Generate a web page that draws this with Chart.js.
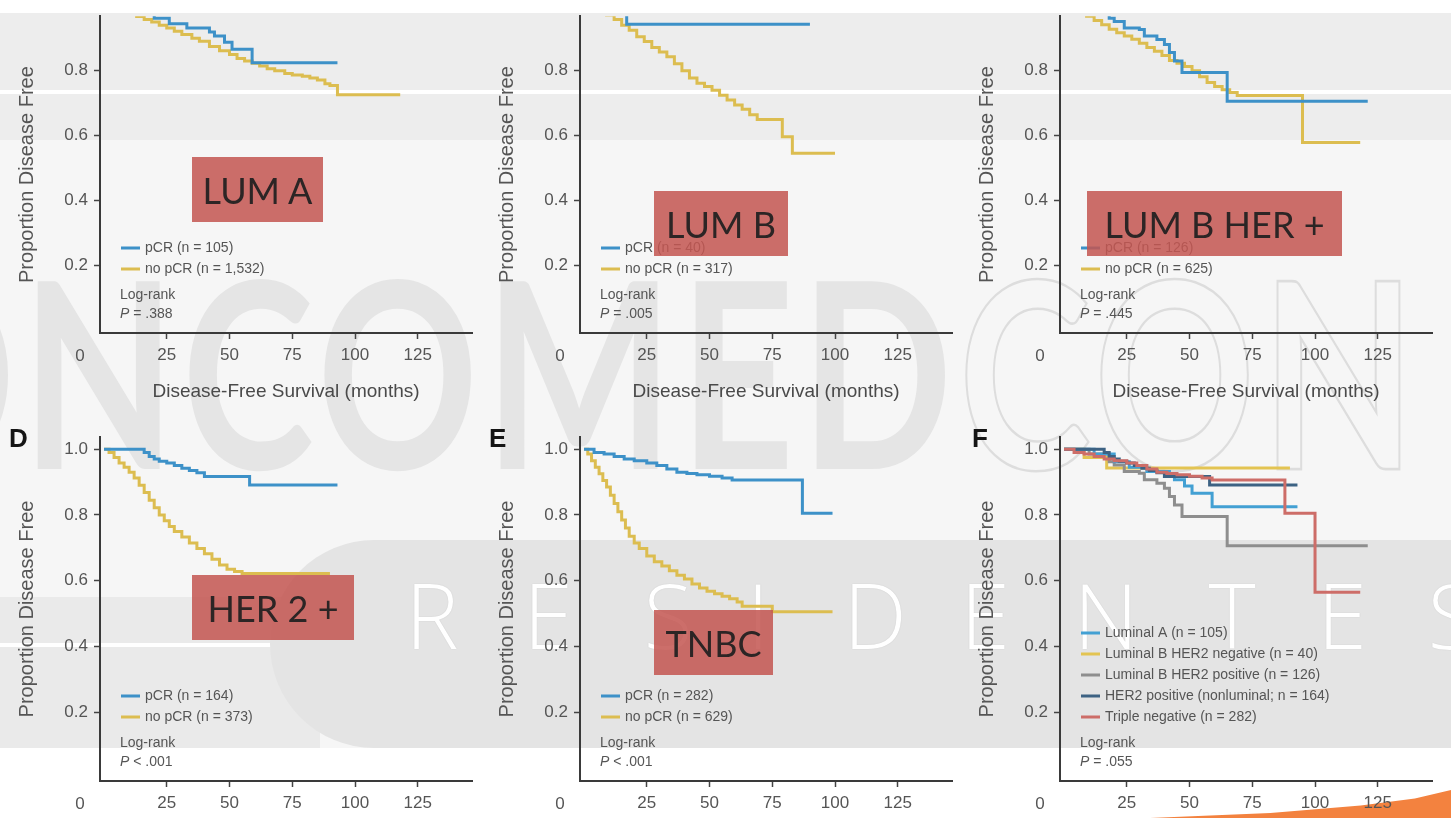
<!DOCTYPE html>
<html>
<head>
<meta charset="utf-8">
<script src="https://cdn.jsdelivr.net/npm/chart.js@4.4.1/dist/chart.umd.min.js"></script>
<style>
body { margin: 0; }
#page { position: relative; width: 1451px; height: 818px; overflow: hidden; background: #f6f6f6; }
.bg { position: absolute; }
canvas { position: absolute; z-index: 3; }
.tag { position: absolute; z-index: 5; background: rgba(196, 86, 82, 0.86); color: #2c2525;
       font-family: Lato, "Open Sans", sans-serif; font-size: 36px; display: flex;
       align-items: center; justify-content: center; white-space: nowrap; }
.plabel { position: absolute; z-index: 4; font: bold 26px/26px "Liberation Sans", Arial, sans-serif; color: #151515; }
#wm { position: absolute; left: -146px; top: 239px; font: bold 200px/200px Lato, sans-serif; letter-spacing: 6px;
      color: #e5e5e5; transform: scaleY(1.3); transform-origin: 0 0; white-space: nowrap; z-index: 1; }
#wm span { color: transparent; -webkit-text-stroke: 2px #dddddd; }
.res { position: absolute; top: 569px; font: 300 90px/90px "Open Sans", sans-serif; color: #ffffff;
       transform: translateX(-50%); z-index: 2; text-shadow: 0 0 1px #bbb; }
</style>
</head>
<body>
<div id="page">
  <div class="bg" style="left:0;top:0;width:1451px;height:13px;background:#ffffff"></div>
  <div class="bg" style="left:0;top:13px;width:1451px;height:127px;background:#ededed"></div>
  <div class="bg" style="left:0;top:90px;width:1451px;height:4px;background:#ffffff"></div>
  <div id="wm">ONCOMED<span>CON</span></div>
  <div class="bg" style="left:0;top:597px;width:320px;height:151px;background:#eaeaea;z-index:1"></div>
  <div class="bg" style="left:0;top:643px;width:320px;height:4px;background:#ffffff;z-index:1"></div>
  <div class="bg" style="left:270px;top:540px;width:1300px;height:208px;background:#e4e4e4;border-radius:104px 0 0 104px;z-index:1"></div>
  <div class="bg" style="left:0;top:748px;width:1451px;height:70px;background:#ffffff;z-index:1"></div>
  <div class="bg" style="left:1150px;top:790px;width:301px;height:28px;background:#f3823f;clip-path:polygon(0 100%,40% 82%,70% 55%,88% 30%,100% 0,100% 100%);z-index:2"></div>

  <div class="res" style="left:432px">R</div>
  <div class="res" style="left:548px">E</div>
  <div class="res" style="left:668px">S</div>
  <div class="res" style="left:758px">I</div>
  <div class="res" style="left:875px">D</div>
  <div class="res" style="left:985px">E</div>
  <div class="res" style="left:1106px">N</div>
  <div class="res" style="left:1232px">T</div>
  <div class="res" style="left:1342px">E</div>
  <div class="res" style="left:1452px">S</div>

  <canvas id="cA" width="480" height="410" style="left:0;top:0"></canvas>
  <canvas id="cB" width="480" height="410" style="left:480px;top:0"></canvas>
  <canvas id="cC" width="491" height="410" style="left:960px;top:0"></canvas>
  <canvas id="cD" width="480" height="408" style="left:0;top:410px"></canvas>
  <canvas id="cE" width="480" height="408" style="left:480px;top:410px"></canvas>
  <canvas id="cF" width="491" height="408" style="left:960px;top:410px"></canvas>

  <div class="plabel" style="left:9px;top:425px">D</div>
  <div class="plabel" style="left:489px;top:425px">E</div>
  <div class="plabel" style="left:972px;top:425px">F</div>

  <div class="tag" style="left:192px;top:157px;width:131px;height:65px">LUM A</div>
  <div class="tag" style="left:654px;top:191px;width:134px;height:65px">LUM B</div>
  <div class="tag" style="left:1087px;top:191px;width:255px;height:65px">LUM B HER +</div>
  <div class="tag" style="left:192px;top:575px;width:162px;height:65px">HER 2 +</div>
  <div class="tag" style="left:654px;top:610px;width:119px;height:65px">TNBC</div>
</div>

<script>
const family = '"Liberation Sans", Arial, sans-serif';
Chart.defaults.font.family = family;

const xTicks = [25, 50, 75, 100, 125];
const yTicks = [0.2, 0.4, 0.6, 0.8, 1.0];

// [months, proportion disease free]
const lumA_pCR = [[0,1],[12,0.985],[20,0.962],[26,0.945],[33,0.932],[42,0.919],[44,0.907],[48,0.888],[51,0.866],[59,0.825],[93,0.825]];
const lumA_noPCR = [[0,1],[3,0.995],[6,0.99],[9,0.98],[13,0.967],[16,0.958],[19,0.95],[22,0.94],[25,0.932],[28,0.922],[31,0.912],[35,0.9],[38,0.891],[42,0.875],[46,0.862],[50,0.85],[53,0.838],[56,0.83],[59,0.823],[62,0.815],[65,0.806],[68,0.8],[72,0.792],[75,0.787],[79,0.783],[82,0.778],[85,0.772],[88,0.76],[90,0.755],[93,0.726],[118,0.726]];
const lumBneg_pCR = [[0,1],[8,0.975],[17,0.943],[90,0.943]];
const lumBneg_noPCR = [[0,1],[3,0.993],[6,0.985],[9,0.972],[12,0.958],[15,0.94],[18,0.925],[21,0.905],[24,0.89],[27,0.872],[30,0.858],[33,0.843],[36,0.822],[39,0.8],[42,0.778],[45,0.762],[48,0.752],[51,0.74],[54,0.725],[57,0.71],[60,0.695],[63,0.682],[66,0.665],[69,0.65],[79,0.597],[83,0.546],[100,0.546]];
const lumBpos_pCR = [[0,1],[10,0.985],[18,0.962],[20,0.952],[24,0.932],[30,0.927],[32,0.907],[37,0.896],[40,0.881],[42,0.856],[44,0.83],[47,0.795],[65,0.706],[121,0.706]];
const lumBpos_noPCR = [[0,1],[3,0.993],[6,0.983],[9,0.968],[12,0.955],[15,0.942],[18,0.928],[21,0.917],[24,0.907],[27,0.897],[30,0.885],[33,0.872],[36,0.86],[39,0.847],[42,0.832],[45,0.823],[48,0.813],[51,0.8],[54,0.782],[57,0.764],[60,0.752],[63,0.742],[66,0.733],[69,0.724],[95,0.579],[118,0.579]];
const her2_pCR = [[0,1],[16,0.99],[18,0.978],[20,0.97],[22,0.963],[25,0.958],[28,0.95],[31,0.942],[34,0.935],[37,0.928],[40,0.917],[58,0.891],[93,0.891]];
const her2_noPCR = [[0,1],[2,0.99],[4,0.975],[6,0.958],[8,0.945],[10,0.93],[12,0.912],[14,0.89],[16,0.868],[18,0.845],[20,0.822],[22,0.8],[24,0.782],[26,0.765],[28,0.75],[31,0.733],[34,0.715],[37,0.698],[40,0.682],[43,0.665],[46,0.648],[49,0.635],[52,0.628],[55,0.622],[90,0.622]];
const tn_pCR = [[0,1],[4,0.99],[8,0.985],[12,0.978],[16,0.97],[20,0.965],[25,0.958],[29,0.95],[33,0.94],[37,0.93],[41,0.926],[45,0.922],[50,0.918],[55,0.912],[59,0.906],[87,0.805],[99,0.805]];
const tn_noPCR = [[0,1],[1.5,0.985],[3,0.965],[4.5,0.945],[6,0.925],[7.5,0.905],[9,0.885],[10.5,0.86],[12,0.835],[13.5,0.81],[15,0.785],[16.5,0.76],[18,0.735],[20,0.715],[22,0.698],[25,0.675],[28,0.658],[31,0.645],[34,0.63],[37,0.617],[40,0.605],[43,0.59],[46,0.578],[49,0.568],[52,0.56],[55,0.553],[58,0.545],[61,0.535],[63,0.522],[75,0.506],[99,0.506]];
const tnAll_pCR = [[0,1],[4,0.99],[8,0.985],[12,0.978],[16,0.97],[20,0.965],[25,0.958],[29,0.95],[33,0.94],[37,0.93],[41,0.926],[45,0.922],[50,0.918],[55,0.912],[59,0.906],[88,0.805],[100,0.565],[118,0.565]];

const pValues = ['= .388', '= .005', '= .445', '< .001', '< .001', '= .055'];

const BLUE = '#3d91c8', YELLOW = '#dcbd50';

// legend, log-rank text and the corner "0" drawn inside the plot
const insetLegend = {
  id: 'insetLegend',
  afterDraw(chart, args, opts) {
    const ctx = chart.ctx, a = chart.chartArea;
    const ds = chart.data.datasets;
    ctx.save();
    ctx.textBaseline = 'middle';
    ctx.textAlign = 'left';
    ctx.fillStyle = '#555';
    ctx.font = '14px ' + family;
    ds.forEach((d, i) => {
      const y = a.bottom - 64 - 21 * (ds.length - 1 - i);
      ctx.strokeStyle = d.borderColor;
      ctx.lineWidth = 3;
      ctx.beginPath();
      ctx.moveTo(a.left + 21, y);
      ctx.lineTo(a.left + 40, y);
      ctx.stroke();
      ctx.fillText(d.label, a.left + 45, y);
    });
    ctx.fillText('Log-rank', a.left + 20, a.bottom - 38);
    ctx.font = 'italic 14px ' + family;
    ctx.fillText('P', a.left + 20, a.bottom - 19);
    const w = ctx.measureText('P').width;
    ctx.font = '14px ' + family;
    ctx.fillText(' ' + opts.p, a.left + 20 + w, a.bottom - 19);
    ctx.font = '17px ' + family;
    ctx.textAlign = 'center';
    ctx.fillText('0', a.left - 20, a.bottom + 23);
    ctx.restore();
  }
};

function curve(label, pts, color, order) {
  return {
    label: label,
    data: pts.map(p => ({x: p[0], y: p[1]})),
    borderColor: color,
    backgroundColor: color,
    borderWidth: 3,
    pointRadius: 0,
    stepped: 'before',
    fill: false,
    order: order || 0
  };
}

function panel(id, topRow, datasets, p) {
  const cv = document.getElementById(id);
  const axisGrid = {drawOnChartArea: false, drawTicks: true, tickLength: 6, tickColor: '#444', tickWidth: 1.5};
  const axisBorder = {display: true, color: '#3a3a3a', width: 2};
  new Chart(cv, {
    type: 'line',
    data: {datasets: datasets},
    options: {
      responsive: false,
      animation: false,
      layout: {padding: {top: topRow ? 13 : 27, right: cv.width - 472, left: 0, bottom: 0}},
      plugins: {
        legend: {display: false},
        tooltip: {enabled: false},
        insetLegend: {p: p}
      },
      scales: {
        x: {
          type: 'linear',
          min: -1.6,
          max: 146.6,
          afterBuildTicks: s => { s.ticks = xTicks.map(v => ({value: v})); },
          afterFit: s => { s.height = topRow ? 77 : 37; },
          grid: axisGrid,
          border: axisBorder,
          ticks: {color: '#555', font: {size: 17}, padding: 6, maxRotation: 0, autoSkip: false},
          title: {display: topRow, text: 'Disease-Free Survival (months)', color: '#4a4a4a',
                  font: {size: 19}, padding: {top: 0, bottom: 7}}
        },
        y: {
          min: topRow ? -0.007 : -0.009,
          max: topRow ? 0.968 : 1.037,
          afterBuildTicks: s => { s.ticks = yTicks.filter(v => v <= s.max).map(v => ({value: v})); },
          afterFit: s => { s.width = 100; },
          grid: axisGrid,
          border: axisBorder,
          ticks: {color: '#555', font: {size: 17}, padding: 6, callback: v => v.toFixed(1)},
          title: {display: true, text: 'Proportion Disease Free', color: '#555',
                  font: {size: 20}, padding: {top: 15, bottom: 0}}
        }
      }
    },
    plugins: [insetLegend]
  });
}

panel('cA', true, [curve('pCR (n = 105)', lumA_pCR, BLUE), curve('no pCR (n = 1,532)', lumA_noPCR, YELLOW)], pValues[0]);
panel('cB', true, [curve('pCR (n = 40)', lumBneg_pCR, BLUE), curve('no pCR (n = 317)', lumBneg_noPCR, YELLOW)], pValues[1]);
panel('cC', true, [curve('pCR (n = 126)', lumBpos_pCR, BLUE), curve('no pCR (n = 625)', lumBpos_noPCR, YELLOW)], pValues[2]);
panel('cD', false, [curve('pCR (n = 164)', her2_pCR, BLUE), curve('no pCR (n = 373)', her2_noPCR, YELLOW)], pValues[3]);
panel('cE', false, [curve('pCR (n = 282)', tn_pCR, BLUE), curve('no pCR (n = 629)', tn_noPCR, YELLOW)], pValues[4]);
panel('cF', false, [
  curve('Luminal A (n = 105)', lumA_pCR, '#43a0d3', 2),
  curve('Luminal B HER2 negative (n = 40)', lumBneg_pCR, '#e3c452', 4),
  curve('Luminal B HER2 positive (n = 126)', lumBpos_pCR, '#8e8e8e', 3),
  curve('HER2 positive (nonluminal; n = 164)', her2_pCR, '#3d6283', 1),
  curve('Triple negative (n = 282)', tnAll_pCR, '#cd6d68', 0)
], pValues[5]);
</script>
</body>
</html>
